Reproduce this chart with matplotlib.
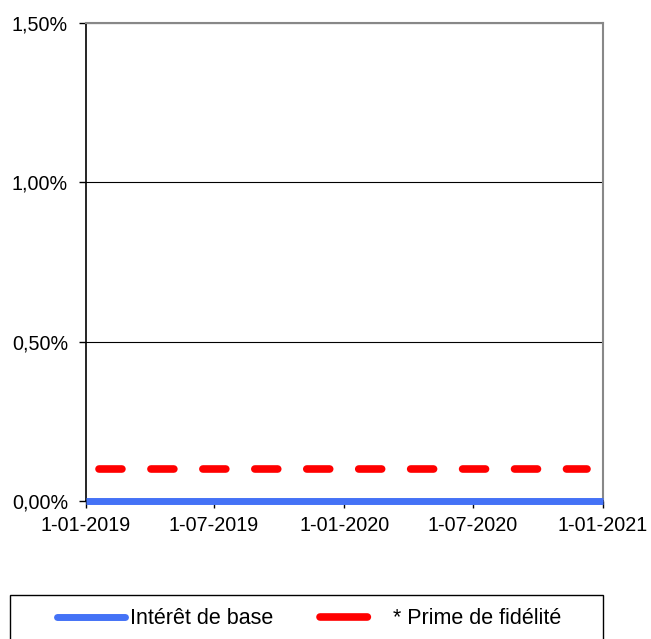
import matplotlib
matplotlib.use("Agg")
import matplotlib.dates as mdates
import matplotlib.pyplot as plt
import matplotlib.ticker as mticker
import pandas as pd
from matplotlib.lines import Line2D
from matplotlib.patches import Rectangle

plt.rcParams["font.family"] = ["Liberation Sans", "DejaVu Sans"]
plt.rcParams["font.size"] = 14.2

base_dates = ["2019-01-01", "2021-01-01"]
base_rates = [0.0, 0.0]
bonus_dates = ["2019-01-19", "2020-12-09"]
bonus_rates = [0.001, 0.001]
x_ticks = ["2019-01-01", "2019-07-01", "2020-01-01", "2020-07-01", "2021-01-01"]
y_ticks = [0.0, 0.005, 0.010, 0.015]
labels = ["Intérêt de base", "* Prime de fidélité"]

BLUE = "#4472f6"
RED = "#ff0000"

fig = plt.figure(figsize=(6.51, 6.39), dpi=100)
ax = fig.add_axes([0.1321, 0.216, 0.7942, 0.748])

ax.plot(pd.to_datetime(base_dates), base_rates, color=BLUE, lw=5,
        solid_capstyle="butt", clip_on=False, zorder=5)
ax.plot(pd.to_datetime(bonus_dates), bonus_rates, color=RED, lw=5.5,
        dashes=(3.0, 3.8), dash_capstyle="round", zorder=4)

ax.set_xlim(pd.Timestamp(x_ticks[0]), pd.Timestamp(x_ticks[-1]))
ax.set_ylim(y_ticks[0], y_ticks[-1])
ax.set_xticks(pd.to_datetime(x_ticks))
ax.xaxis.set_major_formatter(mticker.FuncFormatter(
    lambda v, _: f"{mdates.num2date(v).day}-{mdates.num2date(v):%m-%Y}"))
ax.set_yticks(y_ticks)
ax.yaxis.set_major_formatter(mticker.FuncFormatter(
    lambda v, _: f"{v * 100:.2f}%".replace(".", ",")))

ax.grid(axis="y", color="black", lw=0.8)
ax.tick_params(direction="out", length=5, width=1, colors="black")
ax.tick_params(axis="y", pad=8)
ax.tick_params(axis="x", pad=6)
for side in ("top", "right"):
    ax.spines[side].set_color("#888888")
    ax.spines[side].set_linewidth(1.5)
ax.spines["left"].set_linewidth(1.2)
ax.spines["bottom"].set_linewidth(1.2)

# legend box runs off the bottom of the figure, like the reference
fig.patches.append(Rectangle((10 / 651, -0.05), 593 / 651, 0.05 + 44 / 639,
                             transform=fig.transFigure, fill=False,
                             edgecolor="black", lw=1))
handles = [
    Line2D([], [], color=BLUE, lw=5, solid_capstyle="round"),
    Line2D([], [], color=RED, lw=5.5, dashes=(6.2, 20), dash_capstyle="round"),
]
fig.legend(handles, labels, loc="center", bbox_to_anchor=(0.4747, 0.032),
           ncol=2, frameon=False, fontsize=15.5, handlelength=3.15,
           handletextpad=0.25, columnspacing=2.15, borderaxespad=0)

fig.savefig("out.png", dpi=100)
